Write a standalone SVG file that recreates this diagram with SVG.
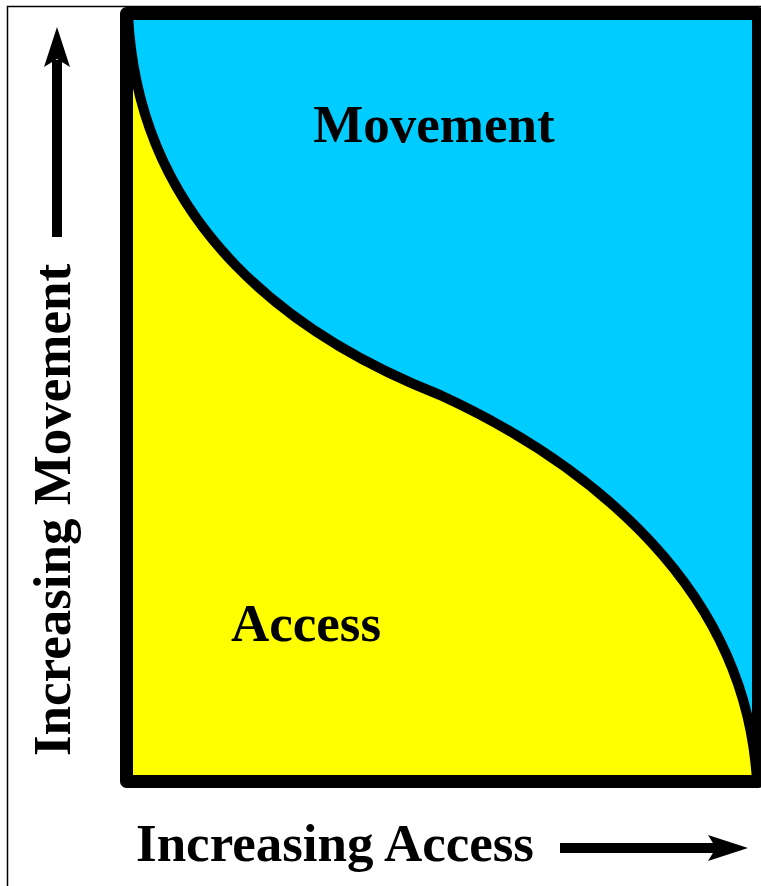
<svg xmlns="http://www.w3.org/2000/svg" width="761" height="886" viewBox="0 0 761 886">
<style>
.lbl{font-family:"Liberation Serif","Times New Roman",serif;font-weight:bold;font-size:53px;fill:#000}
</style>
<rect width="761" height="886" fill="#fff"/>
<rect x="7.5" y="6.5" width="800" height="1000" fill="none" stroke="#000" stroke-width="1.5"/>
<g id="chart">
<rect x="126.5" y="13.5" width="632" height="768" fill="#00CCFF"/>
<path d="M128,14 C138,230 300,340 440,395 C560,450 745,570 757,781.5 L126.5,781.5 Z" fill="#FFFF00"/>
<path id="curve" d="M128,14 C138,230 300,340 440,395 C560,450 745,570 757,781.5" fill="none" stroke="#000" stroke-width="10"/>
<rect x="126.5" y="13.5" width="632" height="768" fill="none" stroke="#000" stroke-width="13" stroke-linejoin="round"/>
</g>
<g id="labels">
<text class="lbl" x="434" y="142" text-anchor="middle">Movement</text>
<text class="lbl" x="306" y="641" text-anchor="middle">Access</text>
<text class="lbl" x="335" y="861" text-anchor="middle">Increasing Access</text>
<text class="lbl" transform="translate(70,510) rotate(-90)" text-anchor="middle">Increasing Movement</text>
</g>
<g id="arrows">
<rect x="52" y="60" width="10" height="177"/>
<path d="M57,27 L70,67 L57,59 L44,67 Z"/>
<rect x="560" y="843" width="160" height="10"/>
<path d="M748,848 L708,835 L716,848 L708,861 Z"/>
</g>
</svg>
